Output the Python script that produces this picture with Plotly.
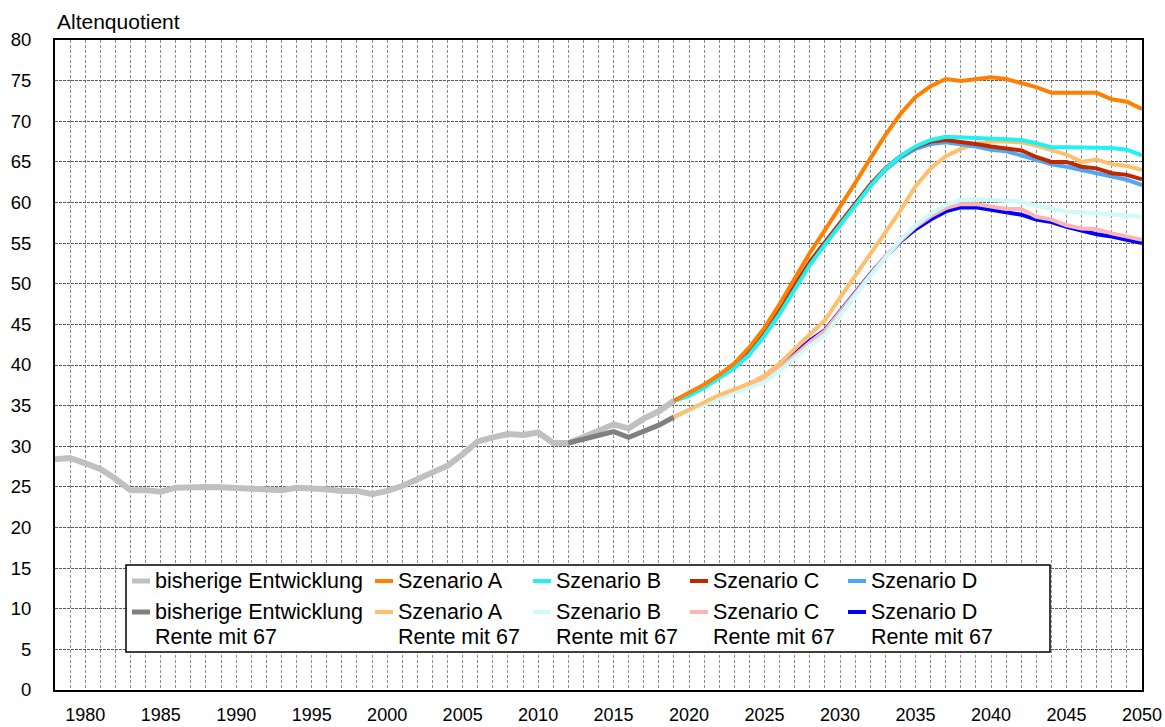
import plotly.graph_objects as go

# ---- data -------------------------------------------------------------
hist_years = list(range(1978, 2020))
hist_values = [28.4, 28.55, 27.9, 27.2, 26.0, 24.6, 24.6, 24.4, 24.9, 25.0,
               25.0, 24.95, 24.9, 24.85, 24.8, 24.6, 24.9, 24.85, 24.7, 24.5,
               24.5, 24.1, 24.5, 25.1, 26.0, 26.7, 27.6, 29.0, 30.6, 31.1,
               31.5, 31.4, 31.7, 30.4, 30.4, 31.1, 32.0, 32.7, 32.2, 33.4,
               34.3, 35.6]

hist67_years = list(range(2012, 2020))
hist67_values = [30.4, 30.85, 31.4, 31.8, 31.1, 31.9, 32.6, 33.6]

proj_years = list(range(2019, 2051))
szen_a = [35.6, 36.6, 37.6, 38.8, 40.2, 42.2, 44.6, 47.5, 50.6, 53.8,
          56.6, 59.4, 62.4, 65.4, 68.3, 70.9, 73.0, 74.3, 75.2, 74.95,
          75.2, 75.4, 75.2, 74.7, 74.2, 73.5, 73.55, 73.5, 73.5, 72.7,
          72.4, 71.5]
szen_b = [35.6, 36.2, 37.2, 38.4, 39.6, 41.3, 43.6, 46.3, 49.3, 52.3,
          54.8, 57.2, 59.6, 62.0, 64.1, 65.7, 66.9, 67.7, 68.1, 68.0,
          67.95, 67.8, 67.8, 67.7, 67.3, 66.8, 66.8, 66.8, 66.8, 66.7,
          66.5, 65.8]
szen_c = [35.6, 36.4, 37.4, 38.6, 39.9, 41.7, 44.1, 46.9, 49.8, 52.7,
          55.1, 57.5, 59.9, 62.2, 64.2, 65.7, 66.8, 67.5, 67.7, 67.5,
          67.2, 66.9, 66.6, 66.4, 65.6, 65.0, 65.0, 64.4, 64.2, 63.6,
          63.4, 62.85]
szen_d = [35.6, 36.3, 37.3, 38.5, 39.8, 41.5, 43.9, 46.6, 49.6, 52.5,
          55.0, 57.3, 59.7, 62.0, 64.0, 65.5, 66.6, 67.2, 67.4, 67.2,
          66.9, 66.5, 66.3, 65.8, 65.2, 64.7, 64.4, 64.0, 63.7, 63.2,
          62.8, 62.15]
szen_a67 = [33.6, 34.5, 35.4, 36.3, 37.0, 37.7, 38.7, 40.2, 42.0, 43.8,
            45.5, 48.3, 51.0, 53.7, 56.4, 59.0, 62.0, 64.2, 65.7, 66.6,
            67.2, 67.5, 67.5, 67.4, 67.0, 66.5, 65.9, 65.0, 65.3, 64.7,
            64.5, 64.0]
szen_b67 = [33.6, 34.3, 35.1, 35.9, 36.6, 37.2, 37.9, 39.3, 40.9, 42.4,
            43.7, 46.2, 48.7, 51.0, 53.2, 55.4, 57.2, 58.6, 59.7, 60.3,
            60.4, 60.3, 60.3, 60.1, 59.6, 59.2, 58.9, 58.8, 58.7, 58.5,
            58.4, 58.2]
szen_c67 = [33.6, 34.4, 35.3, 36.1, 36.9, 37.6, 38.4, 39.6, 41.2, 42.8,
            44.2, 46.5, 48.9, 51.1, 53.3, 55.3, 57.0, 58.3, 59.3, 59.8,
            59.8, 59.5, 59.2, 59.2, 58.25, 57.9, 57.2, 56.8, 56.7, 56.2,
            55.8, 55.4]
szen_d67 = [33.6, 34.4, 35.3, 36.1, 36.9, 37.6, 38.5, 39.8, 41.4, 43.0,
            44.3, 46.6, 49.0, 51.2, 53.3, 55.2, 56.7, 57.9, 58.9, 59.4,
            59.4, 59.1, 58.7, 58.5, 57.9, 57.6, 57.0, 56.5, 56.1, 55.8,
            55.4, 55.0]

x_tick_values = list(range(1980, 2051, 5))
y_tick_values = list(range(0, 81, 5))

# ---- series definitions (name, x, y, colour, width) --------------------
R67 = "Rente mit 67"
series = {
    "hist":   ("bisherige Entwicklung", hist_years, hist_values, "#c0c0c0", 6),
    "hist67": ("bisherige Entwicklung<br>" + R67, hist67_years, hist67_values, "#808080", 5),
    "a":      ("Szenario A", proj_years, szen_a, "#ff7f00", 4),
    "b":      ("Szenario B", proj_years, szen_b, "#1ff2f2", 4),
    "c":      ("Szenario C", proj_years, szen_c, "#c02800", 4),
    "d":      ("Szenario D", proj_years, szen_d, "#4ea6f7", 4),
    "a67":    ("Szenario A<br>" + R67, proj_years, szen_a67, "#ffbf6c", 4),
    "b67":    ("Szenario B<br>" + R67, proj_years, szen_b67, "#cefaf8", 4),
    "c67":    ("Szenario C<br>" + R67, proj_years, szen_c67, "#ffb4b4", 4),
    "d67":    ("Szenario D<br>" + R67, proj_years, szen_d67, "#0000ff", 4),
}
draw_order = ["hist", "hist67", "d67", "c67", "b67", "a67", "d", "c", "b", "a"]
legend_rows = [["hist", "a", "b", "c", "d"],
               ["hist67", "a67", "b67", "c67", "d67"]]

FONT = "Liberation Sans, Arial, sans-serif"

fig = go.Figure()
for key in draw_order:
    name, xs, ys, color, width = series[key]
    fig.add_trace(go.Scatter(
        x=xs, y=ys, mode="lines", name=name.replace("<br>", " "),
        line=dict(color=color, width=width),
        showlegend=False,
    ))

# ---- page geometry (pixels) --------------------------------------------
W, H = 1165, 727
ML, MR, MT, MB = 55, 23, 40, 37
PW, PH = W - ML - MR, H - MT - MB


def px(x):
    return (x - ML) / PW


def py(y):
    return (H - MB - y) / PH


x_grid = dict(gridcolor="#8c8c8c", gridwidth=1, griddash="3px,2px")
y_grid = dict(gridcolor="#5a5a5a", gridwidth=1, griddash="3px,1px")

fig.update_layout(
    width=W, height=H,
    margin=dict(l=ML, r=MR, t=MT, b=MB),
    paper_bgcolor="white", plot_bgcolor="white",
    font=dict(family=FONT, color="black"),
    showlegend=False,
    xaxis=dict(
        range=[1978, 2050], tickmode="array", tickvals=x_tick_values,
        showgrid=True, **x_grid,
        minor=dict(dtick=1, tick0=1978, showgrid=True, **x_grid),
        showline=True, linecolor="black", linewidth=2, mirror=True,
        ticks="", ticklabelstandoff=7, tickfont=dict(size=18),
        zeroline=False, automargin=False,
    ),
    yaxis=dict(
        range=[0, 80], tickmode="array", tickvals=y_tick_values,
        showgrid=True, **y_grid,
        showline=True, linecolor="black", linewidth=2, mirror=True,
        ticks="", ticklabelstandoff=18, tickfont=dict(size=18.5),
        zeroline=False, automargin=False,
    ),
)

# axis title placed above the plot, top-left
fig.add_annotation(
    text="Altenquotient", xref="paper", yref="paper", x=0, y=1,
    xanchor="left", yanchor="bottom", yshift=5, showarrow=False,
    font=dict(size=21, family=FONT, color="black"),
)

# ---- legend box --------------------------------------------------------
box_l, box_r, box_t, box_b = 126, 1050, 565, 652
fig.add_shape(type="rect", xref="paper", yref="paper",
              x0=px(box_l), x1=px(box_r), y0=py(box_b), y1=py(box_t),
              line=dict(color="black", width=1.5), fillcolor="white",
              layer="above")

col_x = [132, 375, 533, 690, 848]
row_y = [581, 612]
line_gap = 25
for r, row in enumerate(legend_rows):
    for c, key in enumerate(row):
        name, _, _, color, width = series[key]
        x0 = col_x[c]
        y0 = row_y[r]
        fig.add_shape(type="line", xref="paper", yref="paper",
                      x0=px(x0), x1=px(x0 + 18), y0=py(y0), y1=py(y0),
                      line=dict(color=color, width=min(width, 5)),
                      layer="above")
        for i, part in enumerate(name.split("<br>")):
            fig.add_annotation(
                text=part, xref="paper", yref="paper",
                x=px(x0 + 21), y=py(y0 + i * line_gap),
                xanchor="left", yanchor="middle", showarrow=False,
                font=dict(size=21.5, family=FONT, color="black"),
            )

fig.write_html("out.html")
